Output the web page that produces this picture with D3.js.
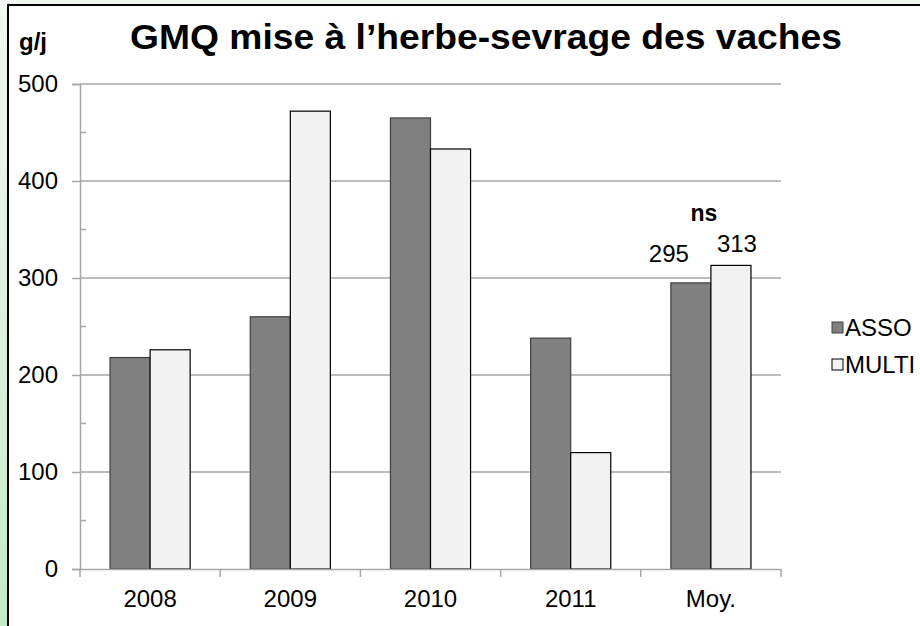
<!DOCTYPE html>
<html>
<head>
<meta charset="utf-8">
<script src="https://cdn.jsdelivr.net/npm/d3@7"></script>
<style>
  body { margin: 0; background: #fff; }
  text { font-family: "Liberation Sans", Arial, sans-serif; fill: #000; }
</style>
</head>
<body>
<script>
const categories = ["2008", "2009", "2010", "2011", "Moy."];
const series = ["ASSO", "MULTI"];
const asso = [218, 260, 465, 238, 295];
const multi = [226, 472, 433, 120, 313];
const yTicks = [0, 100, 200, 300, 400, 500];
const yMinor = [50, 150, 250, 350, 450];
const colors = { ASSO: "#808080", MULTI: "#f2f2f2" };
const strokes = { ASSO: "#404040", MULTI: "#000" };

const w = 920;
const h = 626;

const svg = d3.select("body")
  .append("svg")
  .attr("width", w)
  .attr("height", h);

// green slide background + black frame of the chart box
const grad = svg.append("defs").append("linearGradient")
  .attr("id", "bg").attr("x1", 0).attr("y1", 0).attr("x2", 0).attr("y2", 1);
grad.append("stop").attr("offset", "0%").attr("stop-color", "#f1f8f1");
grad.append("stop").attr("offset", "100%").attr("stop-color", "#c6eac6");
svg.append("rect").attr("width", w).attr("height", h).attr("fill", "url(#bg)");
svg.append("rect")
  .attr("x", 8).attr("y", 5).attr("width", w + 20).attr("height", h + 20)
  .attr("fill", "#fff").attr("stroke", "#000").attr("stroke-width", 2);

const x = d3.scaleBand().domain(categories).range([80, 781]);
const x1 = d3.scaleBand().domain(series).range([0, x.bandwidth()]).paddingOuter(0.75);
const y = d3.scaleLinear().domain([0, 500]).range([569, 84]);

// gridlines
svg.selectAll(".grid")
  .data(yTicks.slice(1))
  .enter()
  .append("line")
  .attr("x1", 80).attr("x2", 781)
  .attr("y1", d => y(d)).attr("y2", d => y(d))
  .attr("stroke", "#a6a6a6").attr("stroke-width", 1.5);

// y axis
const yAxis = svg.append("g")
  .attr("transform", "translate(80,0)")
  .call(d3.axisLeft(y).tickValues(yTicks).tickSize(8).tickPadding(14));
yAxis.select(".domain").attr("stroke", "#a6a6a6").attr("stroke-width", 1.5);
yAxis.selectAll(".tick line").attr("stroke", "#a6a6a6").attr("stroke-width", 1.5);
yAxis.selectAll("text").style("font-size", "24px").attr("fill", "#000");

svg.selectAll(".minor")
  .data(yMinor)
  .enter()
  .append("line")
  .attr("x1", 80).attr("x2", 86)
  .attr("y1", d => y(d)).attr("y2", d => y(d))
  .attr("stroke", "#a6a6a6").attr("stroke-width", 1.5);

// bars
const rows = categories.map((c, i) => ({ cat: c, ASSO: asso[i], MULTI: multi[i] }));
const groups = svg.selectAll(".grp")
  .data(rows)
  .enter()
  .append("g")
  .attr("transform", d => `translate(${x(d.cat)},0)`);

groups.selectAll("rect")
  .data(d => series.map(s => ({ s: s, v: d[s] })))
  .enter()
  .append("rect")
  .attr("x", d => x1(d.s))
  .attr("y", d => y(d.v))
  .attr("width", x1.bandwidth())
  .attr("height", d => y(0) - y(d.v))
  .attr("fill", d => colors[d.s])
  .attr("stroke", d => strokes[d.s])
  .attr("stroke-width", 1.2);

// x axis
const xAxis = svg.append("g")
  .attr("transform", `translate(0,${y(0)})`)
  .call(d3.axisBottom(x).tickSize(0).tickPadding(21));
xAxis.select(".domain").attr("stroke", "#a6a6a6").attr("stroke-width", 1.5);
xAxis.selectAll("text").style("font-size", "24px").attr("fill", "#000");

const bounds = categories.map(c => x(c)).concat([x.range()[1]]);
svg.selectAll(".xtick")
  .data(bounds)
  .enter()
  .append("line")
  .attr("x1", d => d).attr("x2", d => d)
  .attr("y1", y(0)).attr("y2", y(0) + 8)
  .attr("stroke", "#a6a6a6").attr("stroke-width", 1.5);

// labels on the average bars
const last = categories[categories.length - 1];
const lastIdx = categories.length - 1;
svg.append("text")
  .attr("x", x(last) + x1("ASSO") + x1.bandwidth() / 2 - 22)
  .attr("y", y(asso[lastIdx]) - 21)
  .attr("text-anchor", "middle")
  .style("font-size", "24px")
  .text(asso[lastIdx]);
svg.append("text")
  .attr("x", x(last) + x1("MULTI") + x1.bandwidth() / 2 + 6)
  .attr("y", y(multi[lastIdx]) - 13)
  .attr("text-anchor", "middle")
  .style("font-size", "24px")
  .text(multi[lastIdx]);
svg.append("text")
  .attr("x", x(last) + x.bandwidth() / 2 - 7)
  .attr("y", 221)
  .attr("text-anchor", "middle")
  .style("font-size", "23px")
  .style("font-weight", "bold")
  .text("ns");

// titles
svg.append("text")
  .attr("x", 130).attr("y", 49)
  .attr("textLength", 712)
  .attr("lengthAdjust", "spacingAndGlyphs")
  .style("font-size", "35px")
  .style("font-weight", "bold")
  .text("GMQ mise à l’herbe-sevrage des vaches");
svg.append("text")
  .attr("x", 19).attr("y", 50)
  .style("font-size", "24px")
  .style("font-weight", "bold")
  .text("g/j");

// legend
const legend = svg.selectAll(".leg")
  .data(series)
  .enter()
  .append("g")
  .attr("transform", (d, i) => `translate(832,${322 + i * 37})`);
legend.append("rect")
  .attr("width", 11).attr("height", 11)
  .attr("fill", d => colors[d])
  .attr("stroke", d => strokes[d])
  .attr("stroke-width", 1);
legend.append("text")
  .attr("x", 13).attr("y", 14)
  .style("font-size", "24px")
  .text(d => d);
</script>
</body>
</html>
